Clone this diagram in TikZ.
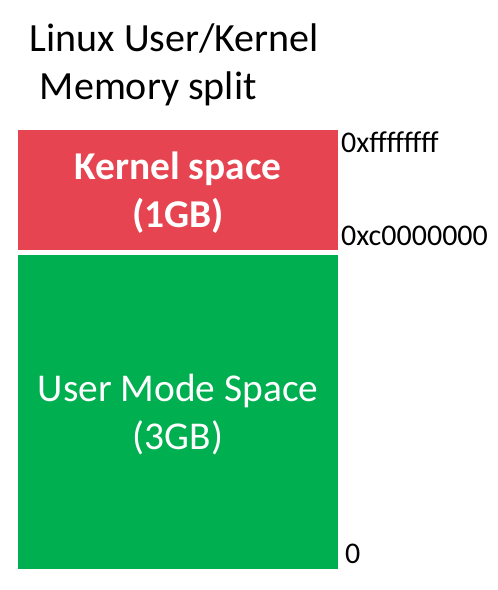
\documentclass[tikz,border=0pt]{standalone}
\usepackage{fontspec}
\setmainfont{Carlito}
\definecolor{kernred}{RGB}{229,68,80}
\definecolor{usergreen}{RGB}{0,175,80}

\begin{document}
\begin{tikzpicture}[x=1pt, y=-1pt,
  region/.style={inner sep=0pt, outer sep=0pt, minimum width=320pt, align=center, text=white,
    text depth=0pt, font=\fontsize{39.4}{48}\selectfont},
  addr/.style={anchor=base west, inner sep=0pt, font=\fontsize{30}{36}\selectfont},
  title/.style={anchor=base west, inner sep=0pt, font=\fontsize{40}{48}\selectfont}]
\useasboundingbox (0,0) rectangle (498,590);
\node[title] (t1) at (29.5,51) {Linux User/Kernel};
\node[title] (t2) at (39.7,99) {Memory split};
\node[region, fill=kernred, minimum height=120pt, font=\fontsize{39.4}{48}\selectfont\bfseries] (kernel) at (178,190) {Kernel space\\(1GB)};
\node[region, fill=usergreen, minimum height=314pt] (user) at (178,412) {User Mode Space\\(3GB)};
\node[addr] (top) at (341,152) {0xffffffff};
\node[addr] (split) at (341,245) {0xc0000000};
\node[addr] (zero) at (345,563) {0};
\end{tikzpicture}
\end{document}
